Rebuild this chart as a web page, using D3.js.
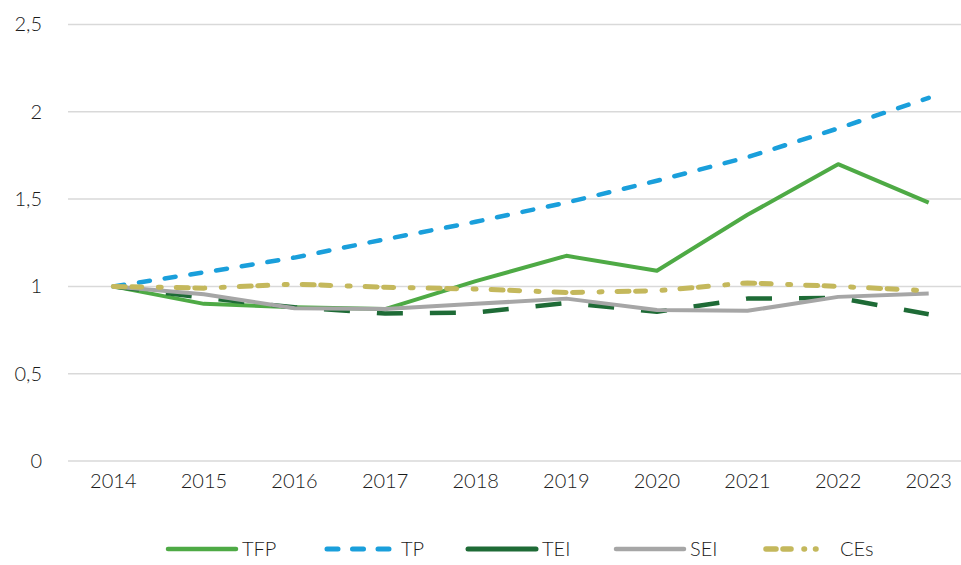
<!DOCTYPE html>
<html>
<head>
<meta charset="utf-8">
<script src="https://cdn.jsdelivr.net/npm/d3@7"></script>
<style>
  body { margin: 0; background: #fff; }
  text { font-family: Lato, "Open Sans", sans-serif; font-weight: 300; fill: #1a1a1a; }
</style>
</head>
<body>
<div id="chart"></div>
<script>
// chart data
const YEARS = ["2014", "2015", "2016", "2017", "2018", "2019", "2020", "2021", "2022", "2023"];
const TFP = [1, 0.9, 0.88, 0.87, 1.03, 1.175, 1.09, 1.41, 1.70, 1.48];
const TP = [1, 1.08, 1.165, 1.27, 1.37, 1.48, 1.605, 1.74, 1.905, 2.08];
const TEI = [1, 0.935, 0.88, 0.845, 0.85, 0.905, 0.855, 0.93, 0.935, 0.84];
const SEI = [1, 0.955, 0.875, 0.87, 0.9, 0.93, 0.865, 0.86, 0.94, 0.96];
const CES = [1, 0.99, 1.013, 0.995, 0.985, 0.965, 0.975, 1.02, 1.0, 0.975];
const Y_TICKS = [0, 0.5, 1, 1.5, 2, 2.5];

const WIDTH = 961;
const HEIGHT = 565;

// one entry per line, styles kept apart from the values
// legendDash: the legend swatch is drawn short, so excel squeezes the pattern
const SERIES = [
  { name: "TFP", values: TFP, color: "#4eaa45", width: 4, dash: null, legendDash: null, cap: "butt" },
  { name: "TP", values: TP, color: "#1a9fdb", width: 4.5, dash: "11,15", legendDash: "11,14.5", cap: "round" },
  { name: "TEI", values: TEI, color: "#1e6b36", width: 4.5, dash: "26,27", legendDash: null, cap: "butt" },
  { name: "SEI", values: SEI, color: "#a6a6a6", width: 4, dash: null, legendDash: null, cap: "butt" },
  { name: "CEs", values: CES, color: "#c4b85c", width: 5, dash: "12,6.5,10,16.5,3,15", legendDash: "10,7,8,13,0.5,11,0.5,40", cap: "round" },
];
// legend line starts, by item
const LEGEND_X = [166, 325, 466, 614, 764];

const svg = d3.select("#chart")
  .append("svg")
  .attr("width", WIDTH)
  .attr("height", HEIGHT);

const xScale = d3.scaleBand().domain(YEARS).range([68, 974]);
const yScale = d3.scaleLinear().domain([0, 2.5]).range([461, 24.5]);
const xPos = d => xScale(d) + xScale.bandwidth() / 2;

// gridlines
svg.append("g")
  .selectAll("line")
  .data(Y_TICKS)
  .join("line")
  .attr("x1", 68)
  .attr("x2", WIDTH)
  .attr("y1", d => yScale(d))
  .attr("y2", d => yScale(d))
  .attr("stroke", "#d9d9d9")
  .attr("stroke-width", 1.5);

// y axis labels
const yAxis = svg.append("g")
  .attr("transform", "translate(42,0)")
  .call(d3.axisLeft(yScale).tickValues(Y_TICKS).tickSize(0).tickPadding(0)
    .tickFormat(d => String(d).replace(".", ",")));
yAxis.select(".domain").remove();
yAxis.selectAll("text").attr("font-size", 20).attr("font-family", "Lato");

// x axis labels
const xAxis = svg.append("g")
  .attr("transform", "translate(0,470)")
  .call(d3.axisBottom(xScale).tickSize(0).tickPadding(0));
xAxis.select(".domain").remove();
xAxis.selectAll("text").attr("font-size", 20).attr("font-family", "Lato").attr("dy", "0.9em");

const line = d3.line()
  .x((d, i) => xPos(YEARS[i]))
  .y(d => yScale(d));

svg.append("g")
  .selectAll("path")
  .data(SERIES)
  .join("path")
  .attr("d", d => line(d.values))
  .attr("fill", "none")
  .attr("stroke", d => d.color)
  .attr("stroke-width", d => d.width)
  .attr("stroke-dasharray", d => d.dash)
  .attr("stroke-linecap", d => d.cap)
  .attr("stroke-linejoin", "round");

// legend
const legend = svg.append("g").attr("class", "legend");
const items = legend.selectAll("g")
  .data(SERIES)
  .join("g")
  .attr("transform", (d, i) => `translate(${LEGEND_X[i]}, 549)`);
items.append("line")
  .attr("x1", 2)
  .attr("x2", 70)
  .attr("stroke", d => d.color)
  .attr("stroke-width", d => d.width + 0.5)
  .attr("stroke-dasharray", d => d.legendDash)
  .attr("stroke-linecap", "round");
items.append("text")
  .attr("x", 76)
  .attr("dy", "0.36em")
  .attr("font-size", 20)
  .text(d => d.name);
</script>
</body>
</html>
